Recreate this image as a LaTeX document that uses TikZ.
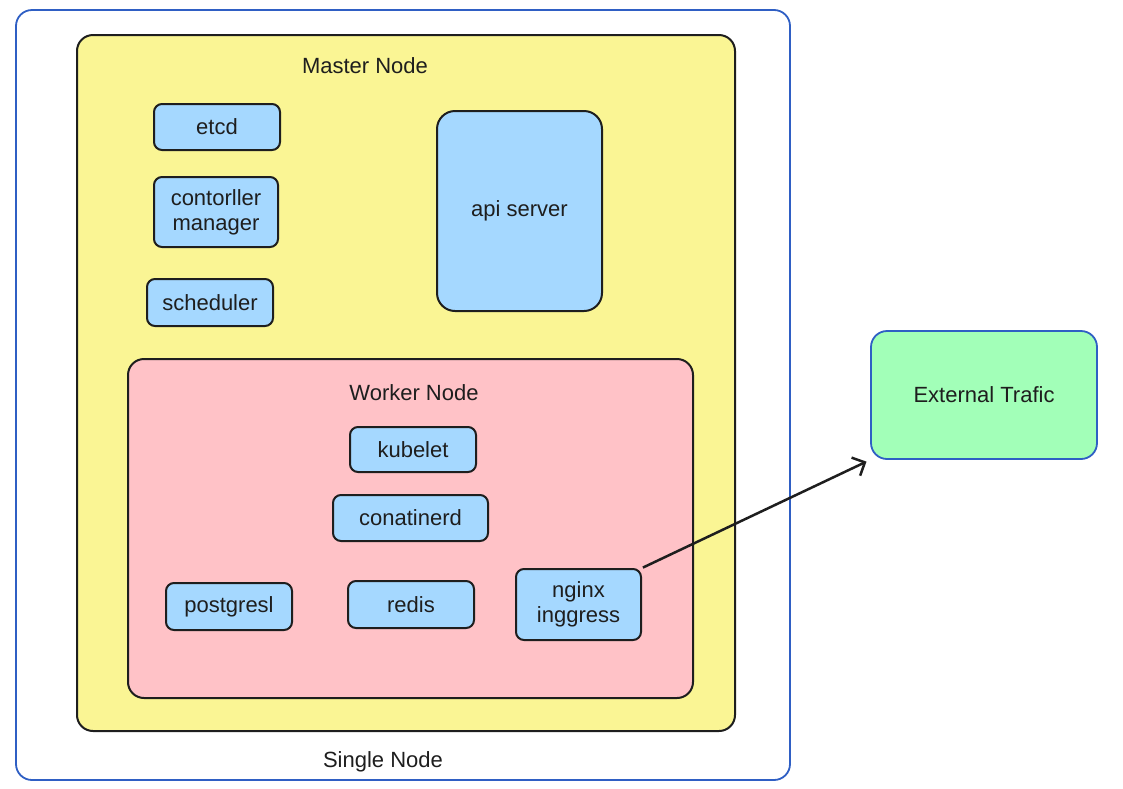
\documentclass[tikz,border=0pt]{standalone}
\usepackage{fontspec}
\setmainfont{Liberation Sans}
\usetikzlibrary{arrows.meta}
\definecolor{outerblue}{HTML}{2F5FC4}
\definecolor{myyellow}{HTML}{FAF594}
\definecolor{mypink}{HTML}{FFC2C7}
\definecolor{myblue}{HTML}{A5D8FF}
\definecolor{mygreen}{HTML}{A2FFB8}
\definecolor{ink}{HTML}{1E1E1E}
\tikzset{
  x=1pt,y=-1pt,
  lbl/.style={font=\fontsize{22}{25}\selectfont,text=ink,align=center,inner sep=0pt},
  comp/.style={lbl,draw=ink,line width=2pt,fill=myblue,rounded corners=8pt},
  container/.style={line width=2pt,rounded corners=16pt,inner sep=0pt},
}
% box: name, x1, y1, x2, y2
\newcommand{\boxat}[6][comp]{%
  \node[#1,minimum width={(#5)-(#3)},minimum height={(#6)-(#4)}] (#2) at ({((#3)+(#5))/2},{((#4)+(#6))/2})}
\begin{document}
\begin{tikzpicture}
\useasboundingbox (0,0) rectangle (1123,788);
\fill[white] (0,0) rectangle (1123,788);
% outer single node
\boxat[container,draw=outerblue,line width=1.8pt]{outer}{16}{10}{790}{780} {};
\node[lbl] (single) at (383,762) {Single Node};
% master
\boxat[container,draw=ink,fill=myyellow]{masterbox}{77}{35}{735}{731} {};
\node[lbl] (master) at (365,66) {Master Node};
\boxat{etcd}{154}{104}{280}{150} {etcd};
\boxat{cm}{154}{177}{278}{247} {contorller\\[0pt]manager};
\boxat{sched}{147}{279}{273}{326} {scheduler};
\boxat[comp,rounded corners=18pt]{api}{437}{111}{602}{311} {api server};
% worker
\boxat[container,draw=ink,fill=mypink]{workerbox}{128}{359}{693}{698} {};
\node[lbl] (worker) at (414,393) {Worker Node};
\boxat{kubelet}{350}{427}{476}{472} {kubelet};
\boxat{containerd}{333}{495}{488}{541} {conatinerd};
\boxat{pg}{166}{583}{292}{630} {postgresl};
\boxat{redis}{348}{581}{474}{628} {redis};
\boxat{nginx}{516}{569}{641}{640} {nginx\\[0pt]inggress};
% external
\boxat[comp,draw=outerblue,fill=mygreen,line width=1.8pt,rounded corners=16pt]{ext}{871}{331}{1097}{459} {External Trafic};
\draw[ink,line width=2.5pt,-{Straight Barb[length=10pt,width=20pt,line width=2.5pt]},shorten <=1pt,shorten >=4pt] (nginx.north east) -- (ext.south west);
\end{tikzpicture}
\end{document}
